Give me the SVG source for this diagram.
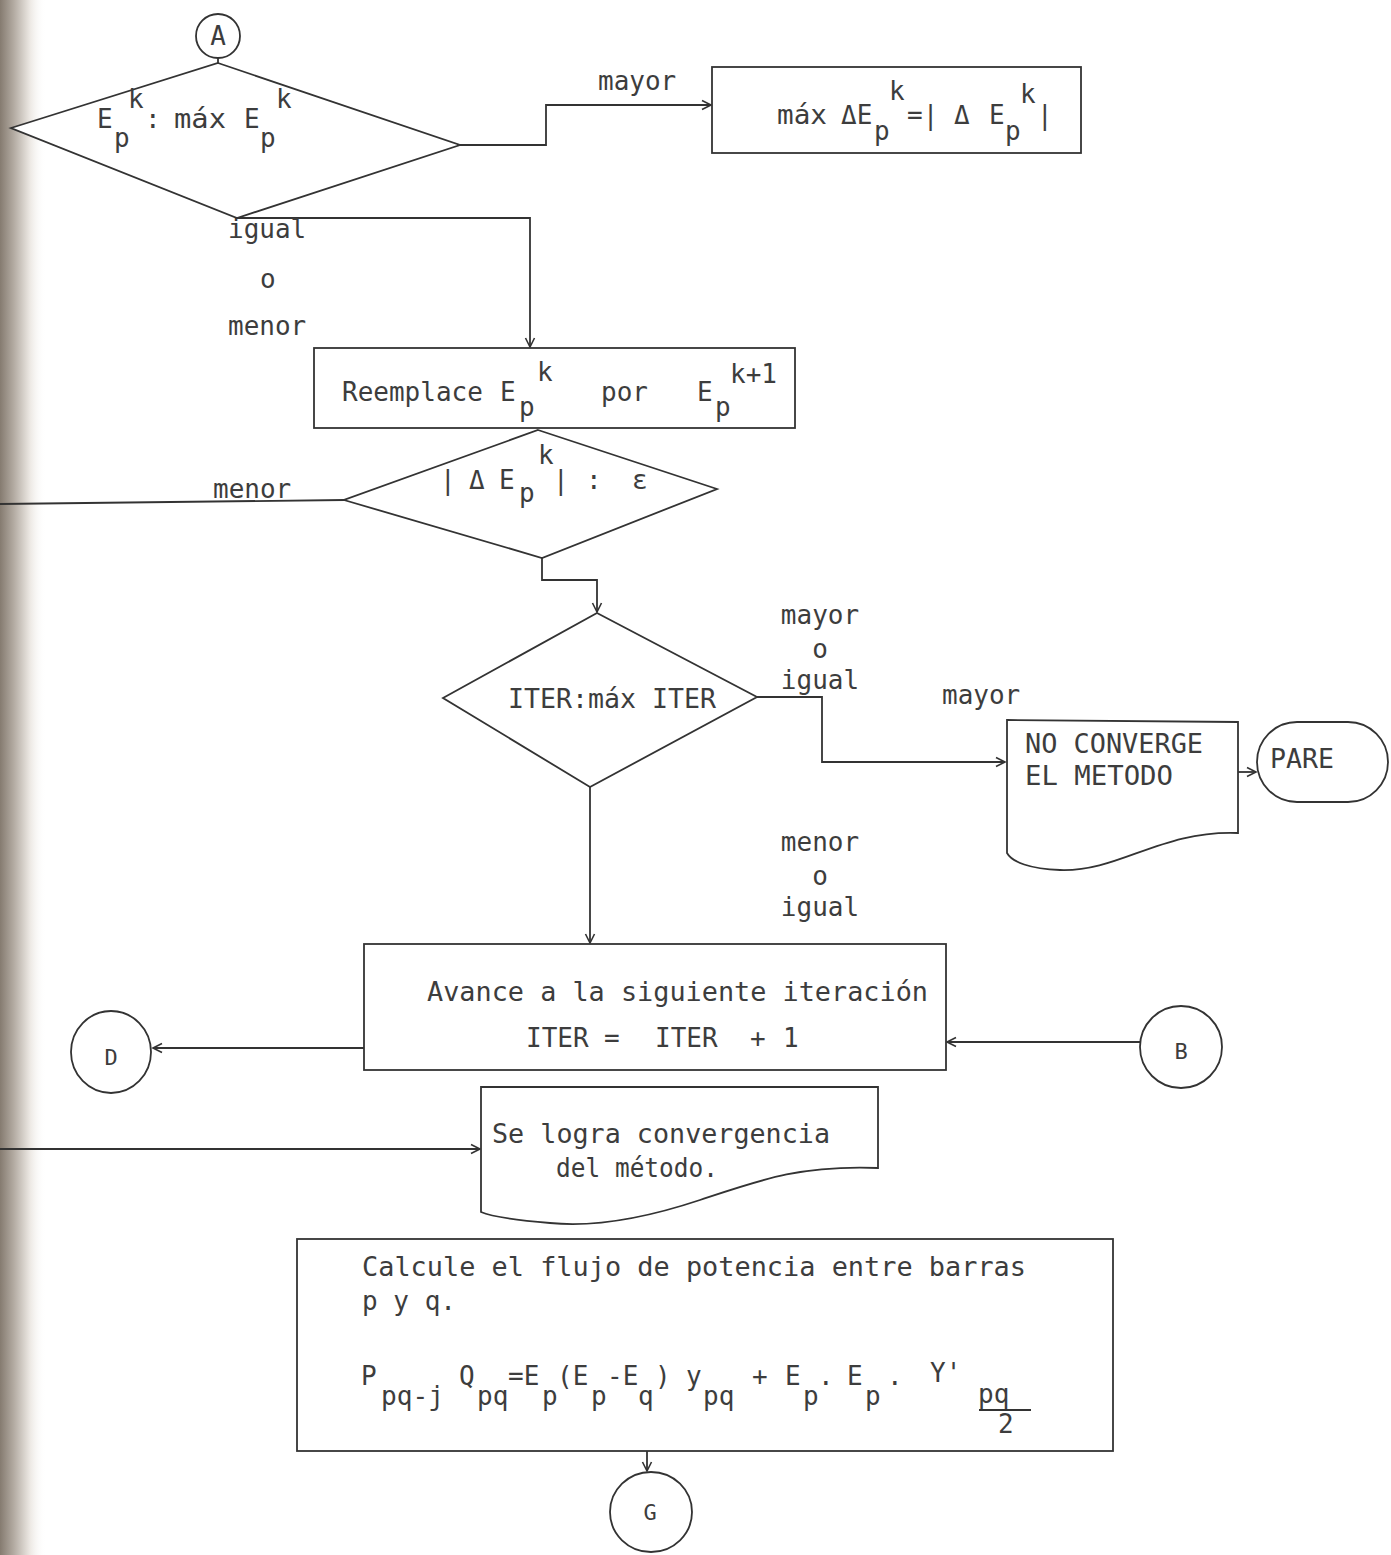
<svg xmlns="http://www.w3.org/2000/svg" width="1391" height="1555" viewBox="0 0 1391 1555">
<defs>
<linearGradient id="spine" x1="0" y1="0" x2="1" y2="0">
<stop offset="0" stop-color="#857b70"/>
<stop offset="0.3" stop-color="#b3aba2"/>
<stop offset="0.65" stop-color="#ece8e3"/>
<stop offset="1" stop-color="#ffffff" stop-opacity="0"/>
</linearGradient>
<marker id="arr" markerWidth="12" markerHeight="12" refX="10" refY="6" orient="auto" markerUnits="userSpaceOnUse">
<path d="M1,1.5 L10,6 L1,10.5" fill="none" stroke="#333" stroke-width="1.6"/>
</marker>
<style>
.s{fill:#fff;stroke:#333;stroke-width:1.8}
.c{fill:none;stroke:#333;stroke-width:1.8}
.t{font-family:"DejaVu Sans Mono","Liberation Mono",monospace;font-size:26px;fill:#3d3d3d}
.m{text-anchor:middle}
</style>
</defs>
<rect x="0" y="0" width="1391" height="1555" fill="#ffffff"/>
<rect x="0" y="0" width="46" height="1555" fill="url(#spine)"/>

<g id="connectors">
<path class="c" d="M218,58 V64"/>
<path class="c" d="M460,145 H546 V105 H711" marker-end="url(#arr)"/>
<path class="c" d="M237,218 H530 V347" marker-end="url(#arr)"/>
<path class="c" d="M0,504 L344,500"/>
<path class="c" d="M542,558 V580 H597 V612" marker-end="url(#arr)"/>
<path class="c" d="M757,697 H822 V762 H1005" marker-end="url(#arr)"/>
<path class="c" d="M1238,772 H1256" marker-end="url(#arr)"/>
<path class="c" d="M590,787 V943" marker-end="url(#arr)"/>
<path class="c" d="M364,1048 H153" marker-end="url(#arr)"/>
<path class="c" d="M1140,1042 H947" marker-end="url(#arr)"/>
<path class="c" d="M0,1149 H480" marker-end="url(#arr)"/>
<path class="c" d="M647,1451 V1471" marker-end="url(#arr)"/>
<text class="t" x="598" y="90">mayor</text>
<text class="t" x="228" y="238">igual</text>
<text class="t" x="260" y="288">o</text>
<text class="t" x="228" y="335">menor</text>
<text class="t" x="213" y="498">menor</text>
<text class="t m" x="820" y="624">mayor</text>
<text class="t m" x="820" y="658">o</text>
<text class="t m" x="820" y="689">igual</text>
<text class="t" x="942" y="704">mayor</text>
<text class="t m" x="820" y="851">menor</text>
<text class="t m" x="820" y="885">o</text>
<text class="t m" x="820" y="916">igual</text>
</g>

<g id="nodeA">
<circle class="s" cx="218" cy="36" r="22"/>
<text class="t m" x="218" y="45">A</text>
</g>

<g id="decision1">
<path class="s" d="M218,63 L460,145 L237,218 L11,128 Z"/>
<text class="t" x="97" y="128">E</text>
<text class="t" x="114" y="147">p</text>
<text class="t" x="128" y="108">k</text>
<text class="t" x="145" y="128">:</text>
<text class="t" x="174" y="128" textLength="52" lengthAdjust="spacingAndGlyphs">máx</text>
<text class="t" x="244" y="128">E</text>
<text class="t" x="260" y="147">p</text>
<text class="t" x="276" y="108">k</text>
</g>

<g id="box1">
<rect class="s" x="712" y="67" width="369" height="86"/>
<text class="t" x="777" y="124" textLength="50" lengthAdjust="spacingAndGlyphs">máx</text>
<text class="t" x="841" y="124">ΔE</text>
<text class="t" x="874" y="140">p</text>
<text class="t" x="889" y="100">k</text>
<text class="t" x="907" y="124">=|</text>
<text class="t" x="954" y="124">Δ</text>
<text class="t" x="989" y="124">E</text>
<text class="t" x="1005" y="140">p</text>
<text class="t" x="1020" y="103">k</text>
<text class="t" x="1037" y="124">|</text>
</g>

<g id="box2">
<rect class="s" x="314" y="348" width="481" height="80"/>
<text class="t" x="342" y="401">Reemplace</text>
<text class="t" x="500" y="401">E</text>
<text class="t" x="519" y="416">p</text>
<text class="t" x="537" y="381">k</text>
<text class="t" x="601" y="401">por</text>
<text class="t" x="697" y="401">E</text>
<text class="t" x="715" y="416">p</text>
<text class="t" x="730" y="383">k+1</text>
</g>

<g id="decision2">
<path class="s" d="M538,430 L717,489 L542,558 L344,500 Z"/>
<text class="t" x="440" y="489">|</text>
<text class="t" x="469" y="489">Δ</text>
<text class="t" x="499" y="489">E</text>
<text class="t" x="519" y="502">p</text>
<text class="t" x="538" y="464">k</text>
<text class="t" x="553" y="489">|</text>
<text class="t" x="586" y="489">:</text>
<text class="t" x="632" y="489">ε</text>
</g>

<g id="decision3">
<path class="s" d="M597,613 L757,697 L590,787 L443,698 Z"/>
<text class="t" x="508" y="708" textLength="208" lengthAdjust="spacingAndGlyphs">ITER:máx ITER</text>
</g>

<g id="doc1">
<path class="s" d="M1007,720 L1238,722 L1238,833 C1160,830 1120,872 1060,870 C1030,869 1012,862 1007,853 Z"/>
<text class="t" x="1025" y="753" textLength="178" lengthAdjust="spacingAndGlyphs">NO CONVERGE</text>
<text class="t" x="1025" y="785" textLength="148" lengthAdjust="spacingAndGlyphs">EL METODO</text>
</g>

<g id="pare">
<rect class="s" x="1257" y="722" width="131" height="80" rx="40" ry="40"/>
<text class="t" x="1270" y="768" textLength="64" lengthAdjust="spacingAndGlyphs">PARE</text>
</g>

<g id="box3">
<rect class="s" x="364" y="944" width="582" height="126"/>
<text class="t" x="427" y="1001" textLength="501" lengthAdjust="spacingAndGlyphs">Avance a la siguiente iteración</text>
<text class="t" x="526" y="1047">ITER</text>
<text class="t" x="604" y="1047">=</text>
<text class="t" x="655" y="1047">ITER</text>
<text class="t" x="750" y="1047">+</text>
<text class="t" x="783" y="1047">1</text>
</g>

<g id="nodeD">
<ellipse class="s" cx="111" cy="1052" rx="40" ry="41"/>
<text class="t m" x="111" y="1065" style="font-size:22px">D</text>
</g>

<g id="nodeB">
<ellipse class="s" cx="1181" cy="1047" rx="41" ry="41"/>
<text class="t m" x="1181" y="1059" style="font-size:22px">B</text>
</g>

<g id="doc2">
<path class="s" d="M481,1087 L878,1087 L878,1168 C800,1165 760,1180 700,1200 C640,1220 590,1227 550,1223 C515,1220 490,1216 481,1212 Z"/>
<text class="t" x="492" y="1143" textLength="338" lengthAdjust="spacingAndGlyphs">Se logra convergencia</text>
<text class="t" x="556" y="1177" textLength="162" lengthAdjust="spacingAndGlyphs">del método.</text>
</g>

<g id="box4">
<rect class="s" x="297" y="1239" width="816" height="212"/>
<text class="t" x="362" y="1276" textLength="664" lengthAdjust="spacingAndGlyphs">Calcule el flujo de potencia entre barras</text>
<text class="t" x="362" y="1310" textLength="94" lengthAdjust="spacingAndGlyphs">p y q.</text>
<text class="t" x="361" y="1385">P</text>
<text class="t" x="381" y="1405" textLength="63" lengthAdjust="spacingAndGlyphs">pq-j</text>
<text class="t" x="459" y="1385">Q</text>
<text class="t" x="477" y="1405">pq</text>
<text class="t" x="508" y="1385">=E</text>
<text class="t" x="542" y="1405">p</text>
<text class="t" x="557" y="1385">(E</text>
<text class="t" x="591" y="1405">p</text>
<text class="t" x="607" y="1385">-E</text>
<text class="t" x="638" y="1405">q</text>
<text class="t" x="655" y="1385">)</text>
<text class="t" x="686" y="1385">y</text>
<text class="t" x="703" y="1405">pq</text>
<text class="t" x="752" y="1385">+</text>
<text class="t" x="785" y="1385">E</text>
<text class="t" x="803" y="1405">p</text>
<text class="t" x="818" y="1385">.</text>
<text class="t" x="847" y="1385">E</text>
<text class="t" x="865" y="1405">p</text>
<text class="t" x="887" y="1385">.</text>
<text class="t" x="930" y="1382">Y'</text>
<text class="t" x="978" y="1403">pq</text>
<line class="c" x1="979" y1="1410" x2="1031" y2="1410"/>
<text class="t" x="998" y="1433">2</text>
</g>

<g id="nodeG">
<ellipse class="s" cx="651" cy="1512" rx="41" ry="40"/>
<text class="t m" x="650" y="1520" style="font-size:22px">G</text>
</g>
</svg>
